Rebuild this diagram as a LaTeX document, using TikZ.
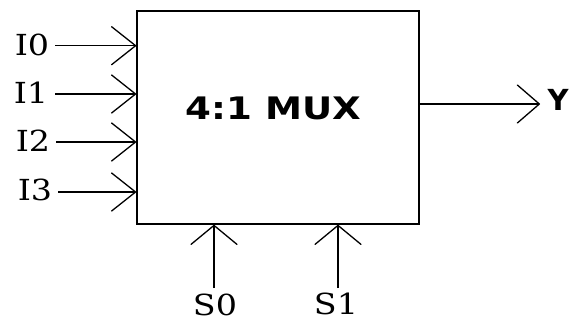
\documentclass[tikz,border=0pt]{standalone}
\usepackage{fontspec}
\usetikzlibrary{arrows.meta}
\newfontfamily\labserif{DejaVu Serif}
\newfontfamily\muxsans{DejaVu Sans}
\tikzset{
  wire/.style={line width=1.3pt, black},
  inarrow/.style={wire, -{Straight Barb[length=24pt, width=38pt, line width=1.3pt, round]}},
  outarrow/.style={wire, -{Straight Barb[length=22pt, width=38pt, line width=1.3pt, round]}},
  selarrow/.style={wire, -{Straight Barb[length=19pt, width=46pt, line width=1.3pt, round]}},
  lab/.style={inner sep=0pt, font=\labserif\fontsize{29}{29}\selectfont},
  boxst/.style={draw, line width=1.5pt, inner sep=0pt, minimum width=282pt, minimum height=213pt},
}
\begin{document}
\begin{tikzpicture}[x=1pt,y=-1pt]
\useasboundingbox (0,0) rectangle (571,322);
\node[boxst] (mux) at (278,117.5) {};
\node[inner sep=0pt] (title) at (273.5,108) {\scalebox{1.2}[1]{\muxsans\bfseries\fontsize{31}{31}\selectfont 4:1 MUX}};
% inputs
\node[lab] (i0) at (32,45) {\scalebox{1.15}[1]{I0}};
\node[lab] (i1) at (31,93) {\scalebox{1.15}[1]{I1}};
\node[lab] (i2) at (33,141) {\scalebox{1.15}[1]{I2}};
\node[lab] (i3) at (35,190) {\scalebox{1.15}[1]{I3}};
\coordinate (e0) at (mux.west |- 0,45.7);
\coordinate (e1) at (mux.west |- 0,94);
\coordinate (e2) at (mux.west |- 0,142);
\coordinate (e3) at (mux.west |- 0,192);
\draw[inarrow] (55,45.7) -- (e0);
\draw[inarrow] (55,94) -- (e1);
\draw[inarrow] (56,142) -- (e2);
\draw[inarrow] (58,192) -- (e3);
% output
\node[inner sep=0pt, font=\muxsans\bfseries\fontsize{29}{29}\selectfont] (y) at (558,100) {Y};
\coordinate (ystart) at (mux.east |- 0,104);
\coordinate (yend) at (540,104);
\draw[outarrow] (ystart) -- (yend);
% selects
\node[lab] (s0) at (215,305) {\scalebox{1.15}[1]{S0}};
\node[lab] (s1) at (336,304) {\scalebox{1.15}[1]{S1}};
\coordinate (t0) at (214,288);
\coordinate (t1) at (338,288);
\draw[selarrow] (t0) -- (t0 |- mux.south);
\draw[selarrow] (t1) -- (t1 |- mux.south);
\end{tikzpicture}
\end{document}
